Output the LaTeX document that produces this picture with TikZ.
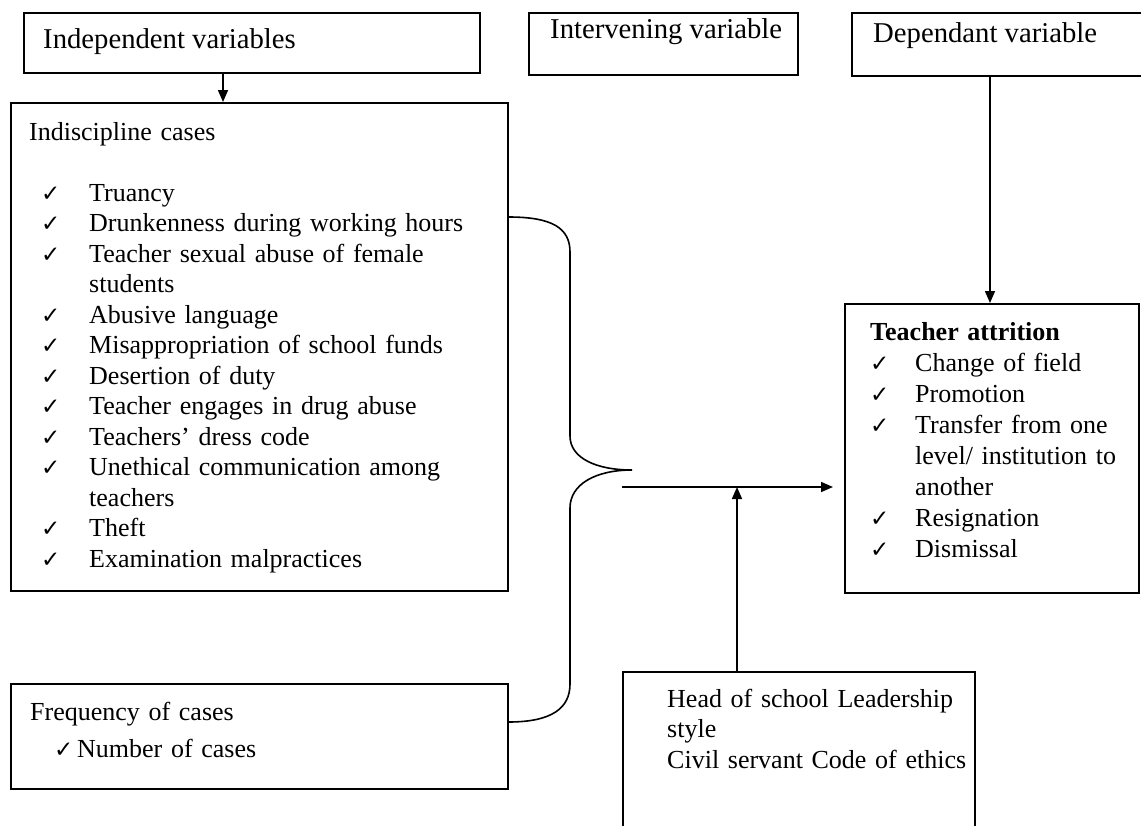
\documentclass[tikz,border=0pt]{standalone}
\usepackage{fontspec}
\setmainfont{Liberation Serif}
\newfontfamily\checkfont{DejaVu Sans}
\usepackage{tikz}
\usetikzlibrary{arrows.meta}
\setlength{\parindent}{0pt}

\newcommand{\ck}{{\checkfont\fontsize{23}{23}\selectfont\char"2713}}
\newcommand{\chkline}[1]{\hspace*{12pt}\makebox[48pt][l]{\ck}#1}

\tikzset{
  frame/.style={draw,line width=1.6pt,anchor=north west,inner sep=0pt},
  head/.style={anchor=base west,inner sep=0pt,font=\fontsize{28.7}{33}\selectfont},
  body/.style={anchor=north west,inner sep=0pt,align=left,font=\fontsize{26}{30.5}\selectfont},
  arr/.style={line width=1.6pt,-{Triangle[length=12pt,width=10pt]}},
  line/.style={line width=1.6pt}
}

\begin{document}
\begin{tikzpicture}[x=1pt,y=-1pt]
\clip (0,0) rectangle (1141,825);
% boxes
\node[frame,minimum width=456pt,minimum height=60pt] (indep) at (23,12) {};
\node[frame,minimum width=269pt,minimum height=62pt] (interv) at (528,12) {};
\node[frame,minimum width=300pt,minimum height=63pt] (dep) at (851,12) {};
\node[frame,minimum width=497pt,minimum height=488pt] (indisc) at (10,102) {};
\node[frame,minimum width=497pt,minimum height=105pt] (freq) at (10,683) {};
\node[frame,minimum width=294pt,minimum height=289pt] (attr) at (844,303) {};
\node[frame,minimum width=352pt,minimum height=200pt] (lead) at (622,671) {};

% headings
\node[head] (indep-t) at (43,48) {Independent variables};
\node[head] (interv-t) at (550,38) {Intervening variable};
\node[head] (dep-t) at (873,42) {Dependant variable};

% texts in the boxes
\node[body,text width=470pt] (indisc-t) at (29,118.65) {\strut Indiscipline cases\\[30.5pt]
\chkline{Truancy}\\
\chkline{Drunkenness during working hours}\\
\chkline{Teacher sexual abuse of female}\\
\hspace*{60pt}students\\
\chkline{Abusive language}\\
\chkline{Misappropriation of school funds}\\
\chkline{Desertion of duty}\\
\chkline{Teacher engages in drug abuse}\\
\chkline{Teachers’ dress code}\\
\chkline{Unethical communication among}\\
\hspace*{60pt}teachers\\
\chkline{Theft}\\
\chkline{Examination malpractices}};

\node[body,text width=470pt,font=\fontsize{26}{37}\selectfont] (freq-t) at (30,694.1) {\strut Frequency of cases\\
\hspace*{24pt}\makebox[23pt][l]{\ck}Number of cases};

\node[body,text width=300pt,font=\fontsize{26}{31}\selectfont] (attr-t) at (870,318.3) {\strut\textbf{Teacher attrition}\\
\makebox[45pt][l]{\ck}Change of field\\
\makebox[45pt][l]{\ck}Promotion\\
\makebox[45pt][l]{\ck}Transfer from one\\
\hspace*{45pt}level/ institution to\\
\hspace*{45pt}another\\
\makebox[45pt][l]{\ck}Resignation\\
\makebox[45pt][l]{\ck}Dismissal};

\node[body,text width=300pt] (lead-t) at (667,685.65) {\strut Head of school Leadership\\
style\\
Civil servant Code of ethics};

% brace and arrows
\coordinate (tip) at (632,470);
\coordinate (join) at (622,487);
\coordinate (meet) at (737,487);
\draw[line] (indisc.east |- 0,217) .. controls (552,217) and (570,228) .. (570,252)
  -- (570,436) .. controls (570,458) and (596,470) .. (tip)
  .. controls (596,470) and (570,484) .. (570,508)
  -- (570,684) .. controls (570,708) and (552,722) .. (freq.east |- 0,722);
\draw[arr] (indep.south -| 223,0) -- (indisc.north -| 223,0);
\draw[arr] (dep.south -| 990,0) -- (attr.north -| 990,0);
\draw[arr,shorten >=11pt] (join) -- (attr.west |- join);
\draw[arr] (lead.north -| meet) -- (meet);
\end{tikzpicture}
\end{document}
